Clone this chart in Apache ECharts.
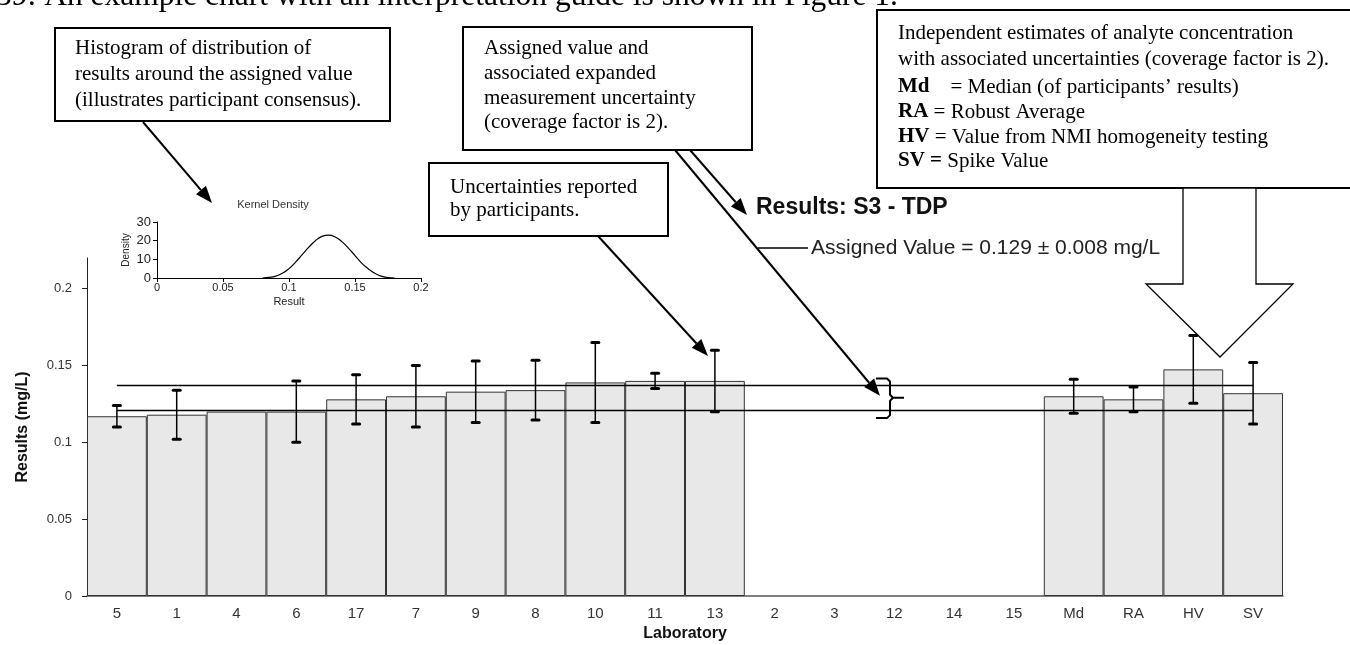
<!DOCTYPE html>
<html>
<head>
<meta charset="utf-8">
<script src="https://cdn.jsdelivr.net/npm/echarts@6/dist/echarts.min.js"></script>
<style>
  html, body { margin: 0; padding: 0; background: #fff; }
  #chart { width: 1350px; height: 645px; }
</style>
</head>
<body>
<div id="chart"></div>
<script>
// Laboratory results for sample S3 (TDP), in the plotted order
const laboratories = ['5', '1', '4', '6', '17', '7', '9', '8', '10', '11', '13', '2', '3', '12', '14', '15', 'Md', 'RA', 'HV', 'SV'];
const results = [0.117, 0.118, 0.120, 0.120, 0.128, 0.130, 0.133, 0.134, 0.139, 0.140, 0.140,
                 null, null, null, null, null, 0.130, 0.128, 0.1475, 0.132];
const uncertainties = [0.007, 0.016, null, 0.020, 0.016, 0.020, 0.020, 0.0195, 0.026, 0.005, 0.020,
                       null, null, null, null, null, 0.011, 0.008, 0.022, 0.020];
const assignedValue = 0.129;
const assignedUncertainty = 0.008;
const resultTicks = [0, 0.05, 0.1, 0.15, 0.2];

// Kernel density of participants' results
const densityResult = [0.080, 0.085, 0.090, 0.095, 0.100, 0.105, 0.110, 0.115, 0.120, 0.125, 0.130,
                       0.135, 0.140, 0.145, 0.150, 0.155, 0.160, 0.165, 0.170, 0.175, 0.180];
const densityValue = [0, 0.3, 1, 2.5, 5, 8.5, 12.5, 16.5, 20, 22.3, 23,
                      22, 19.5, 16, 12, 8, 5, 2.5, 1, 0.2, 0];

const SANS = "'Liberation Sans', Arial, sans-serif";
const SERIF = "'Liberation Serif', 'Times New Roman', serif";

const chart = echarts.init(document.getElementById('chart'), null, { renderer: 'canvas' });

const errorData = [];
laboratories.forEach((lab, i) => {
  if (results[i] != null && uncertainties[i] != null) errorData.push([i, results[i], uncertainties[i]]);
});

const option = {
  animation: false,
  backgroundColor: '#fff',
  grid: [
    { left: 87, right: 67, top: 258, bottom: 49, outerBoundsMode: 'none', containLabel: false },
    { left: 157, top: 222, width: 264, height: 56, outerBoundsMode: 'none', containLabel: false }
  ],
  xAxis: [
    {
      type: 'category', gridIndex: 0, data: laboratories,
      axisLine: { lineStyle: { color: '#555', width: 1.5 } },
      axisTick: { length: 4, lineStyle: { color: '#555' }, interval: 0 },
      axisLabel: { interval: 0, color: '#333', fontFamily: SANS, fontSize: 15, margin: 10 },
      name: 'Laboratory', nameLocation: 'middle', nameGap: 30,
      nameTextStyle: { fontFamily: SANS, fontWeight: 'bold', fontSize: 16, color: '#111' }
    },
    {
      type: 'value', gridIndex: 1, min: 0, max: 0.2, interval: 0.05,
      splitLine: { show: false },
      axisLine: { lineStyle: { color: '#000', width: 1 } },
      axisTick: { length: 4, lineStyle: { color: '#000' } },
      axisLabel: { color: '#222', fontFamily: SANS, fontSize: 11, margin: 4 },
      name: 'Result', nameLocation: 'middle', nameGap: 18,
      nameTextStyle: { fontFamily: SANS, fontSize: 11, color: '#222' }
    }
  ],
  yAxis: [
    {
      type: 'value', gridIndex: 0, min: 0, max: 0.22, interval: 0.05,
      splitLine: { show: false },
      axisLine: { show: true, lineStyle: { color: '#222', width: 1 } },
      axisTick: { show: true, length: 5, lineStyle: { color: '#222' }, customValues: resultTicks },
      axisLabel: { color: '#333', fontFamily: SANS, fontSize: 13, margin: 15, customValues: resultTicks },
      name: 'Results (mg/L)', nameLocation: 'middle', nameGap: 56,
      nameTextStyle: { fontFamily: SANS, fontWeight: 'bold', fontSize: 16, color: '#111' }
    },
    {
      type: 'value', gridIndex: 1, min: 0, max: 30, interval: 10,
      splitLine: { show: false },
      axisLine: { show: true, lineStyle: { color: '#000', width: 1 } },
      axisTick: { show: true, length: 4, lineStyle: { color: '#000' } },
      axisLabel: { color: '#222', fontFamily: SANS, fontSize: 13, margin: 6 },
      name: 'Density', nameLocation: 'middle', nameGap: 26,
      nameTextStyle: { fontFamily: SANS, fontSize: 10, color: '#222' }
    }
  ],
  series: [
    {
      type: 'bar', xAxisIndex: 0, yAxisIndex: 0,
      data: results,
      barWidth: '100%', barCategoryGap: 0,
      itemStyle: { color: '#e8e8e8', borderColor: '#333', borderWidth: 1 },
      silent: true,
      markLine: {
        silent: true, symbol: 'none', label: { show: false },
        lineStyle: { color: '#000', width: 1.3, type: 'solid' },
        data: [
          [{ coord: [laboratories[0], assignedValue + assignedUncertainty] },
           { coord: [laboratories[laboratories.length - 1], assignedValue + assignedUncertainty] }],
          [{ coord: [laboratories[0], assignedValue - assignedUncertainty] },
           { coord: [laboratories[laboratories.length - 1], assignedValue - assignedUncertainty] }]
        ]
      },
      z: 2
    },
    {
      type: 'custom', xAxisIndex: 0, yAxisIndex: 0,
      data: errorData,
      encode: { x: 0, y: 1 },
      silent: true,
      z: 5,
      renderItem: function (params, api) {
        const x = api.value(0), v = api.value(1), u = api.value(2);
        const hi = api.coord([x, v + u]);
        const lo = api.coord([x, v - u]);
        const cap = 3.5;
        return {
          type: 'group',
          children: [
            { type: 'line', shape: { x1: hi[0], y1: hi[1], x2: lo[0], y2: lo[1] },
              style: { stroke: '#000', lineWidth: 1.5 } },
            { type: 'line', shape: { x1: hi[0] - cap, y1: hi[1], x2: hi[0] + cap, y2: hi[1] },
              style: { stroke: '#000', lineWidth: 3, lineCap: 'round' } },
            { type: 'line', shape: { x1: lo[0] - cap, y1: lo[1], x2: lo[0] + cap, y2: lo[1] },
              style: { stroke: '#000', lineWidth: 3, lineCap: 'round' } }
          ]
        };
      }
    },
    {
      type: 'line', xAxisIndex: 1, yAxisIndex: 1,
      data: densityResult.map((r, i) => [r, densityValue[i]]),
      smooth: true, symbol: 'none', silent: true,
      lineStyle: { color: '#000', width: 1.2 }
    }
  ]
};

chart.setOption(option);

// Annotation layer
function textLine(x, y, text, font, extra) {
  return {
    type: 'text', z: 110, x: x, y: y, silent: true,
    style: Object.assign({ text: text, font: font, fill: '#000', align: 'left', verticalAlign: 'middle' }, extra || {})
  };
}
function box(x, y, w, h) {
  return { type: 'rect', z: 100, silent: true, shape: { x: x, y: y, width: w, height: h },
           style: { fill: '#fff', stroke: '#000', lineWidth: 2 } };
}
function arrow(x1, y1, x2, y2) {
  const ang = Math.atan2(y2 - y1, x2 - x1);
  const len = 17, half = 6.5;
  const bx = x2 - len * Math.cos(ang), by = y2 - len * Math.sin(ang);
  const px = -Math.sin(ang) * half, py = Math.cos(ang) * half;
  return [
    { type: 'line', z: 105, silent: true, shape: { x1: x1, y1: y1, x2: bx, y2: by },
      style: { stroke: '#000', lineWidth: 2 } },
    { type: 'polygon', z: 105, silent: true,
      shape: { points: [[x2, y2], [bx + px, by + py], [bx - px, by - py]] },
      style: { fill: '#000' } }
  ];
}

const docFont = '21px ' + SERIF;
const boldDoc = { b: { font: 'bold 21px ' + SERIF } };
const upperY = chart.convertToPixel({ yAxisIndex: 0 }, assignedValue + assignedUncertainty);
const lowerY = chart.convertToPixel({ yAxisIndex: 0 }, assignedValue - assignedUncertainty);
const midY = (upperY + lowerY) / 2;
const braceTop = upperY - 7, braceBot = lowerY + 8;

const graphics = [
  textLine(-4, -3, '39: An example chart with an interpretation guide is shown in Figure 1.', '31.5px ' + SERIF),

  box(55, 28, 335, 93),
  textLine(75, 48, 'Histogram of distribution of', docFont),
  textLine(75, 74, 'results around the assigned value', docFont),
  textLine(75, 100, '(illustrates participant consensus).', docFont),

  box(463, 27, 289, 123),
  textLine(484, 48, 'Assigned value and', docFont),
  textLine(484, 73, 'associated expanded', docFont),
  textLine(484, 98, 'measurement uncertainty', docFont),
  textLine(484, 122, '(coverage factor is 2).', docFont),

  box(429, 163, 239, 73),
  textLine(450, 187, 'Uncertainties reported', docFont),
  textLine(450, 210, 'by participants.', docFont),

  box(877, 10, 480, 178),
  textLine(898, 33, 'Independent estimates of analyte concentration', docFont),
  textLine(898, 59, 'with associated uncertainties (coverage factor is 2).', docFont),
  textLine(898, 87, '{b|Md}    = Median (of participants\u2019 results)', docFont, { rich: boldDoc }),
  textLine(898, 112, '{b|RA} = Robust Average', docFont, { rich: boldDoc }),
  textLine(898, 137, '{b|HV} = Value from NMI homogeneity testing', docFont, { rich: boldDoc }),
  textLine(898, 161, '{b|SV =} Spike Value', docFont, { rich: boldDoc }),

  // block arrow pointing at the independent estimates
  { type: 'polygon', z: 104, silent: true,
    shape: { points: [[1183, 188], [1256, 188], [1256, 284], [1293, 284], [1220, 357], [1146, 284], [1183, 284]] },
    style: { fill: '#fff', stroke: '#000', lineWidth: 1.3 } },

  // chart title and assigned value legend
  textLine(756, 208, 'Results: S3 - TDP', 'bold 23px ' + SANS, { fill: '#111' }),
  { type: 'line', z: 105, silent: true, shape: { x1: 758, y1: 248, x2: 808, y2: 248 },
    style: { stroke: '#000', lineWidth: 1.3 } },
  textLine(811, 248, 'Assigned Value = 0.129 \u00b1 0.008 mg/L', '21px ' + SANS, { fill: '#222' }),

  textLine(273, 205, 'Kernel Density', '11px ' + SANS, { fill: '#333', align: 'center' }),

  // brace spanning the assigned value interval
  { type: 'polyline', z: 105, silent: true,
    shape: { points: [[876, braceTop], [887, braceTop], [890, braceTop + 3], [890, midY - 3], [893, midY], [904, midY]] },
    style: { stroke: '#000', lineWidth: 2, fill: null } },
  { type: 'polyline', z: 105, silent: true,
    shape: { points: [[893, midY], [890, midY + 3], [890, braceBot - 3], [887, braceBot], [876, braceBot]] },
    style: { stroke: '#000', lineWidth: 2, fill: null } }
];

graphics.push(...arrow(143, 122, 212, 203));
graphics.push(...arrow(690, 150, 747, 215));
graphics.push(...arrow(675, 150, 880, midY - 2));
graphics.push(...arrow(598, 236, 708, 356));

chart.setOption({ graphic: graphics });
</script>
</body>
</html>
